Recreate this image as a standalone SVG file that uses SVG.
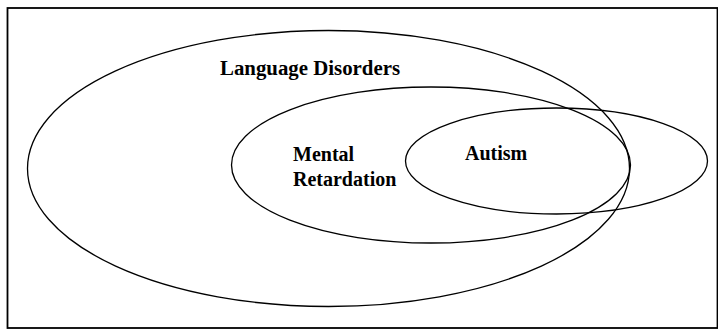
<svg xmlns="http://www.w3.org/2000/svg" width="718" height="331" viewBox="0 0 718 331">
<style>
.set{fill:none;stroke:#000;stroke-width:1.3}
.lbl{font-family:"Liberation Serif","Times New Roman",serif;font-weight:bold;font-size:20px;fill:#000}
</style>
<rect x="0" y="0" width="718" height="331" fill="#fff"/>
<rect x="7.5" y="8" width="710" height="320" fill="none" stroke="#000" stroke-width="1.8"/>
<g id="language-disorders">
<ellipse class="set" cx="328.5" cy="168.5" rx="301" ry="138"/>
<text class="lbl" x="220" y="75" textLength="180" lengthAdjust="spacingAndGlyphs">Language Disorders</text>
</g>
<g id="mental-retardation">
<ellipse class="set" cx="431" cy="165" rx="199.5" ry="78"/>
<text class="lbl" x="293" y="161">Mental</text>
<text class="lbl" x="293" y="186">Retardation</text>
</g>
<g id="autism">
<ellipse class="set" cx="556.5" cy="161" rx="151" ry="53"/>
<text class="lbl" x="465" y="160">Autism</text>
</g>
<g id="connectors"></g>
</svg>
